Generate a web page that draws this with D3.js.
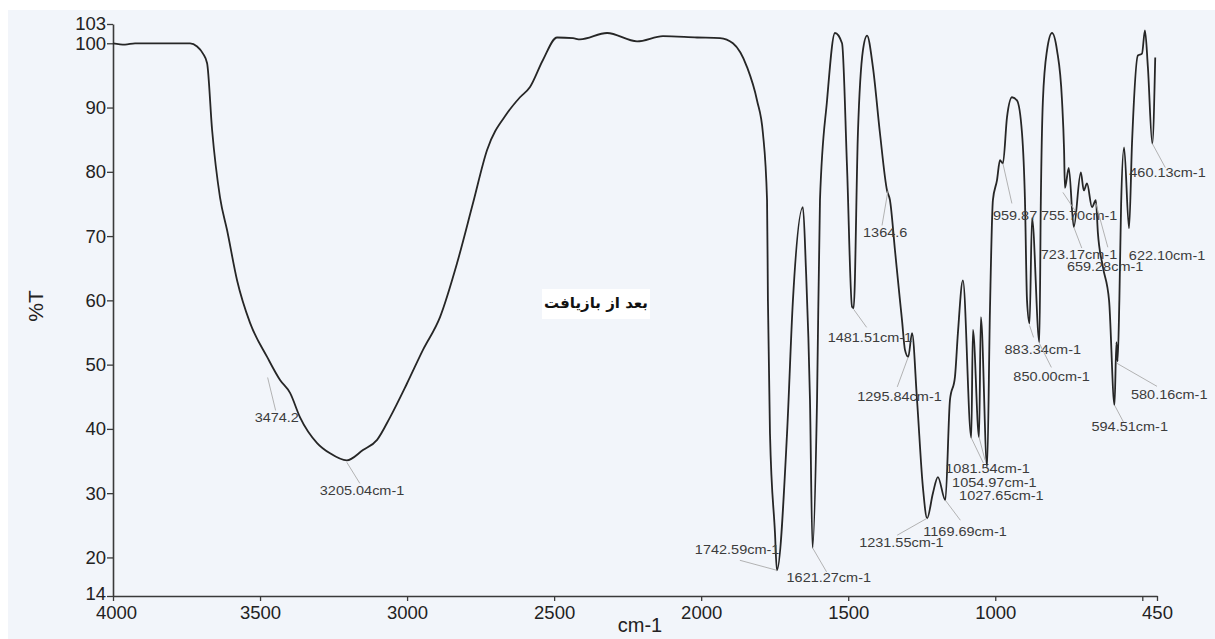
<!DOCTYPE html>
<html>
<head>
<meta charset="utf-8">
<script src="https://cdn.jsdelivr.net/npm/d3@7"></script>
<style>
  body { margin: 0; background: #ffffff; }
  svg { display: block; }
</style>
</head>
<body>
<script>
// wavenumber (cm-1) and transmittance (%T)
const wavenumbers = [4000, 3959, 3925, 3738, 3714, 3694, 3680, 3663, 3636, 3612, 3578, 3534, 3476, 3432, 3398, 3364, 3306, 3262, 3205, 3150, 3102, 3058, 3000, 2946, 2888, 2830, 2776, 2728, 2660, 2616, 2582, 2538, 2490, 2436, 2412, 2320, 2218, 2130, 2014, 1936, 1892, 1844, 1810, 1790, 1776, 1773, 1766, 1749, 1742.6, 1708, 1688, 1654, 1644, 1630, 1621.3, 1606, 1596, 1572, 1545, 1521, 1504, 1487, 1481.5, 1467, 1450, 1436, 1416, 1392, 1368, 1358, 1341, 1324, 1317, 1307, 1295.8, 1283, 1266, 1246, 1231.6, 1212, 1195, 1169.7, 1154, 1137, 1127, 1110, 1081.5, 1076, 1055, 1049, 1027.7, 1018, 1008, 994, 984, 974, 960, 943, 926, 909, 899, 892, 883.3, 875, 850, 845, 838, 824, 807, 790, 773, 766, 763, 750, 733, 709, 699, 688, 671, 658, 651, 634, 613, 594.5, 588, 584, 578, 572, 562, 545, 535, 515, 501, 491, 481, 466, 456];
const transmittance = [100.0, 99.8, 100.0, 100.0, 99.5, 98.4, 96.9, 86.5, 76.0, 70.9, 63.1, 56.5, 51.2, 47.6, 45.6, 41.8, 37.8, 36.2, 35.1, 36.7, 38.3, 41.8, 47.1, 52.3, 57.4, 65.8, 75.1, 83.4, 89.1, 91.6, 93.2, 97.4, 100.9, 100.8, 100.6, 101.6, 100.3, 101.1, 100.9, 100.8, 100.0, 96.3, 91.1, 86.0, 75.6, 60.0, 39.3, 23.8, 18.0, 39.3, 60.0, 74.5, 65.2, 44.5, 21.5, 44.5, 75.6, 91.1, 101.6, 100.0, 80.7, 59.0, 58.8, 86.0, 98.9, 101.2, 96.3, 86.0, 77.1, 75.6, 67.8, 60.0, 56.9, 52.3, 51.2, 54.9, 44.5, 30.9, 26.1, 30.0, 32.5, 28.9, 44.5, 48.1, 54.9, 63.1, 38.6, 55.4, 38.7, 57.4, 34.1, 58.5, 75.6, 78.7, 81.8, 81.3, 88.5, 91.6, 91.1, 86.0, 75.6, 60.0, 56.4, 72.8, 53.5, 75.6, 91.1, 98.9, 101.6, 98.9, 91.1, 83.4, 77.5, 80.6, 71.4, 79.9, 77.1, 78.2, 74.5, 75.6, 70.5, 65.2, 60.0, 43.7, 53.5, 50.5, 60.0, 75.0, 83.8, 71.2, 84.4, 98.1, 98.4, 102.0, 96.3, 84.4, 97.8];

const xTicks = [4000, 3500, 3000, 2500, 2000, 1500, 1000, 500, 450];
const yTicks = [14, 20, 30, 40, 50, 60, 70, 80, 90, 100, 103];

// peak labels: text and the point (cm-1, %T) the leader line starts from
const peakTexts = ["3474.2", "3205.04cm-1", "1742.59cm-1", "1621.27cm-1", "1481.51cm-1", "1364.6", "1295.84cm-1", "1231.55cm-1", "1169.69cm-1", "1081.54cm-1", "1054.97cm-1", "1027.65cm-1", "959.87", "755.70cm-1", "723.17cm-1", "622.10cm-1", "659.28cm-1", "883.34cm-1", "850.00cm-1", "594.51cm-1", "580.16cm-1", "460.13cm-1"];
const peakWn = [3474.2, 3205, 1742.6, 1621.3, 1481.5, 1364.6, 1295.8, 1231.6, 1169.7, 1081.5, 1055, 1027.7, 974, 770, 733, 658, 634, 883.3, 850, 594.5, 586, 466];
const peakT = [48.0, 34.8, 18.0, 21.5, 58.6, 77.1, 51.2, 26.1, 28.9, 38.6, 38.7, 34.1, 81.3, 76.8, 71.4, 75.1, 65.2, 56.1, 53.3, 43.7, 50.2, 84.4];

// label layout, px relative to leader start: text left, text middle, leader end
const labelLayout = [
  [-13, 41, 8, 33], [-27, 29, 13, 21], [-82, -20, -37, -10], [-26, 31, 14, 24],
  [-26, 29, 13, 18], [-25, 43, -6, 35], [-51, 41, -11, 30], [-68, 25, -30, 17],
  [-22, 32, 15, 20], [-26, 32, 12, 25], [-27, 46, 6, 23], [-28, 30, 0, 0],
  [-10, 53, 9, 40], [-22, 24, 14, 21], [-33, 29, 8, 21], [33, 53, 12, 44],
  [-36, 1, 0, 0], [-25, 25, 4, 12], [-26, 34, 12, 24], [-23, 23, 9, 17],
  [14, 32, 40, 23], [-23, 30, 13, 24]
];

const width = 1215, height = 639;
const margin = {top: 24, right: 58, bottom: 43, left: 113};

const svg = d3.select("body").append("svg")
  .attr("width", width)
  .attr("height", height);

svg.append("rect")
  .attr("x", 8).attr("y", 10)
  .attr("width", width - 8).attr("height", height - 10)
  .attr("fill", "#f2f5fa");

const x = d3.scaleLinear()
  .domain([4000, 450])
  .range([margin.left, width - margin.right]);
const y = d3.scaleLinear()
  .domain([14, 103])
  .range([height - margin.bottom, margin.top]);

const font = "'Liberation Sans', Arial, sans-serif";

// axes
const xAxis = svg.append("g")
  .attr("transform", "translate(0," + y(14) + ")")
  .call(d3.axisBottom(x).tickValues(xTicks).tickSize(5).tickPadding(5).tickSizeOuter(0)
    .tickFormat(d => d === 500 ? "" : d));
const yAxis = svg.append("g")
  .attr("transform", "translate(" + x(4000) + ",0)")
  .call(d3.axisLeft(y).tickValues(yTicks).tickSize(6).tickPadding(1).tickSizeOuter(0));

[xAxis, yAxis].forEach(a => {
  a.select(".domain").attr("stroke", "#3a3a3a").attr("stroke-width", 1.6);
  a.selectAll(".tick line").attr("stroke", "#3a3a3a").attr("stroke-width", 1.3);
  a.selectAll(".tick text")
    .attr("fill", "#222")
    .style("font-family", font)
    .style("font-size", "18.5px");
});
// the first x label sits a little right of the axis corner
xAxis.selectAll(".tick text").filter(d => d === 4000).attr("dx", 3);
yAxis.selectAll(".tick text").filter(d => d === 14).attr("dy", "0.2em");

svg.append("text")
  .attr("transform", "translate(37,306) rotate(-90)")
  .attr("text-anchor", "middle")
  .attr("dominant-baseline", "middle")
  .style("font-family", font)
  .style("font-size", "21px")
  .attr("fill", "#222")
  .text("%T");

svg.append("text")
  .attr("x", 640).attr("y", 627)
  .attr("text-anchor", "middle")
  .attr("dominant-baseline", "middle")
  .style("font-family", font)
  .style("font-size", "20px")
  .attr("fill", "#222")
  .text("cm-1");

// spectrum
const spectrum = wavenumbers.map((w, i) => ({wn: w, t: transmittance[i]}));
const line = d3.line()
  .x(d => x(d.wn))
  .y(d => y(d.t))
  .curve(d3.curveMonotoneX);

svg.append("path")
  .datum(spectrum)
  .attr("fill", "none")
  .attr("stroke", "#262626")
  .attr("stroke-width", 1.8)
  .attr("stroke-linejoin", "round")
  .attr("d", line);

// peak labels (the scanned print is stretched sideways, so the text is too)
const peaks = peakTexts.map((t, i) => ({text: t, wn: peakWn[i], t: peakT[i], lay: labelLayout[i]}));
const pg = svg.append("g");
peaks.forEach(p => {
  const px = x(p.wn), py = y(p.t);
  if (p.lay[2] !== 0 || p.lay[3] !== 0) {
    pg.append("line")
      .attr("x1", px).attr("y1", py)
      .attr("x2", px + p.lay[2]).attr("y2", py + p.lay[3])
      .attr("stroke", "#aaa")
      .attr("stroke-width", 0.9);
  }
  pg.append("text")
    .attr("transform", "translate(" + (px + p.lay[0]) + "," + (py + p.lay[1]) + ") scale(1.16,1)")
    .attr("dominant-baseline", "middle")
    .style("font-family", font)
    .style("font-size", "12.5px")
    .attr("fill", "#3c3c3c")
    .text(p.text);
});

// sample note
const note = svg.append("g").attr("transform", "translate(596,304)");
note.append("rect")
  .attr("x", -54).attr("y", -15)
  .attr("width", 108).attr("height", 30)
  .attr("fill", "#ffffff");
note.append("text")
  .attr("text-anchor", "middle")
  .attr("dominant-baseline", "middle")
  .attr("direction", "rtl")
  .style("font-family", "'DejaVu Serif', 'DejaVu Sans', serif")
  .style("font-size", "15px")
  .style("font-weight", "bold")
  .attr("fill", "#111")
  .text("بعد از بازیافت");
</script>
</body>
</html>
